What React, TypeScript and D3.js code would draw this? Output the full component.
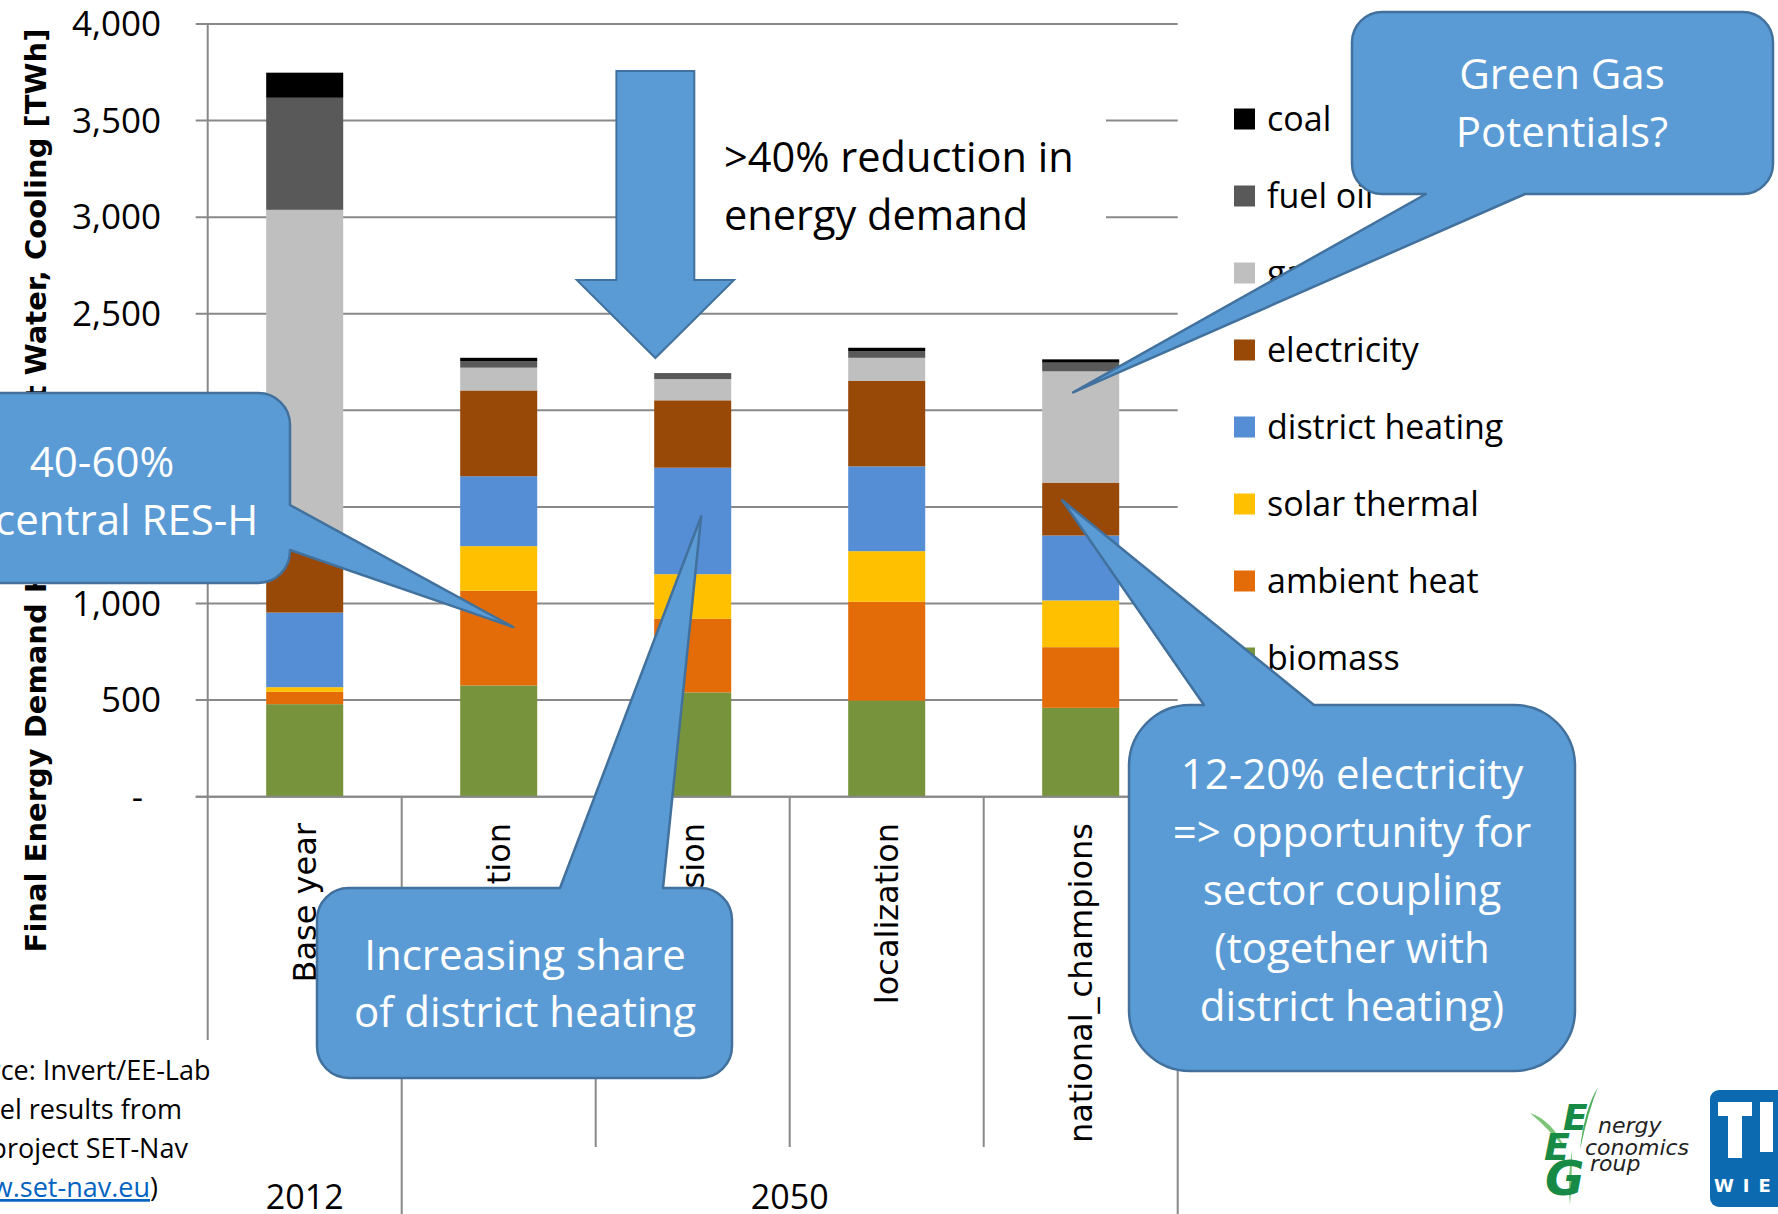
import * as React from 'react';
import {scaleLinear, scaleBand, stack as d3Stack, select as d3Select, path as d3Path, format as d3Format} from 'd3';

// Final energy demand for heating, hot water and cooling [TWh]
const categories = ['Base year', 'diversification', 'directed_vision', 'localization', 'national_champions'];
const groupLabels = ['2012', '2050'];
const groupSpans = [1, 4];
const yTicks = [0, 500, 1000, 1500, 2000, 2500, 3000, 3500, 4000];

// stack order, bottom to top
const carriers = ['biomass', 'ambient heat', 'solar thermal', 'district heating', 'electricity', 'gas', 'fuel oil', 'coal'];
const carrierColors = ['#77933C', '#E36C09', '#FFC000', '#558ED5', '#984807', '#BFBFBF', '#595959', '#000000'];

const biomass = [479, 576, 540, 497, 460];
const ambientHeat = [64, 490, 381, 512, 314];
const solarThermal = [24, 231, 231, 262, 242];
const districtHeating = [386, 362, 551, 439, 336];
const electricity = [347, 444, 349, 442, 274];
const gas = [1738, 118, 110, 120, 576];
const fuelOil = [580, 34, 31, 35, 45];
const coal = [130, 17, 0, 17, 17];

const seriesValues = [biomass, ambientHeat, solarThermal, districtHeating, electricity, gas, fuelOil, coal];

const yTitle = 'Final Energy Demand Heating, Hot Water, Cooling [TWh]';
const reductionText = ['>40% reduction in', 'energy demand'];
const sourceLines = ['Source: Invert/EE-Lab', 'model results from', 'the project SET-Nav'];

// callouts: box in px, tail tip anchored to a bar (category, offset from bar left, value)
interface Callout {
  box: [number, number, number, number];
  edge: 'top' | 'right' | 'bottom';
  a: number;
  b: number;
  cat: string;
  dx: number;
  value: number;
  lines: string[];
  baselines: number[];
  cx: number;
}

const callouts: Callout[] = [
  {box: [1352, 12, 1773, 194], edge: 'bottom', a: 1426, b: 1525, cat: 'national_champions', dx: 31, value: 2093,
   lines: ['Green Gas', 'Potentials?'], baselines: [89, 147], cx: 1562},
  {box: [-85, 393, 290, 583], edge: 'right', a: 505, b: 550, cat: 'diversification', dx: 53, value: 878,
   lines: ['40-60%', 'decentral RES-H'], baselines: [477, 535], cx: 102},
  {box: [317, 888, 732, 1078], edge: 'top', a: 560, b: 663, cat: 'directed_vision', dx: 47, value: 1452,
   lines: ['Increasing share', 'of district heating'], baselines: [970, 1027], cx: 525},
  {box: [1129, 705, 1575, 1071], edge: 'top', a: 1204, b: 1314, cat: 'national_champions', dx: 20, value: 1535,
   lines: ['12-20% electricity', '=> opportunity for', 'sector coupling', '(together with', 'district heating)'],
   baselines: [789, 847, 905, 963, 1021], cx: 1352},
];

const gridColor = '#898989';
const calloutFill = '#5B9BD5';
const calloutStroke = '#41719C';
const bodyFont = '"Open Sans", "Noto Sans", sans-serif';
const axisFont = '"DejaVu Sans", Verdana, sans-serif';

function calloutPath(c: Callout, tx: number, ty: number): string {
  const [x0, y0, x1, y1] = c.box;
  const r = Math.min(x1 - x0, y1 - y0) / 6;
  const p = d3Path();
  p.moveTo(x0 + r, y0);
  if (c.edge === 'top') { p.lineTo(c.a, y0); p.lineTo(tx, ty); p.lineTo(c.b, y0); }
  p.lineTo(x1 - r, y0);
  p.arcTo(x1, y0, x1, y0 + r, r);
  if (c.edge === 'right') { p.lineTo(x1, c.a); p.lineTo(tx, ty); p.lineTo(x1, c.b); }
  p.lineTo(x1, y1 - r);
  p.arcTo(x1, y1, x1 - r, y1, r);
  if (c.edge === 'bottom') { p.lineTo(c.b, y1); p.lineTo(tx, ty); p.lineTo(c.a, y1); }
  p.lineTo(x0 + r, y1);
  p.arcTo(x0, y1, x0, y1 - r, r);
  p.lineTo(x0, y0 + r);
  p.arcTo(x0, y0, x0 + r, y0, r);
  p.closePath();
  return p.toString();
}

export default class App extends React.Component<{}, {}> {
  private _svg = React.createRef<SVGSVGElement>();

  public componentDidMount() {
    this._draw();
  }

  private _draw() {
    const svg = d3Select(this._svg.current as SVGSVGElement);
    svg.selectAll('*').remove();

    const plot = {left: 207.7, right: 1177.7, top: 24, bottom: 796.7};
    const tickSize = 12;

    const x = scaleBand<string>()
      .domain(categories)
      .range([plot.left, plot.right])
      .paddingInner(0.603)
      .paddingOuter(0.3015);
    const y = scaleLinear().domain([0, 4000]).range([plot.bottom, plot.top]);
    const fmt = d3Format(',');

    // gridlines
    svg.append('g').selectAll('line')
      .data(yTicks)
      .enter().append('line')
      .attr('x1', plot.left - tickSize).attr('x2', plot.right)
      .attr('y1', (d) => y(d)).attr('y2', (d) => y(d))
      .attr('stroke', gridColor).attr('stroke-width', 2);

    // y tick labels
    svg.append('g').selectAll('text')
      .data(yTicks)
      .enter().append('text')
      .attr('x', (d) => d === 0 ? 143 : 161)
      .attr('y', (d) => y(d))
      .attr('dy', '0.35em')
      .attr('text-anchor', 'end')
      .style('font-family', bodyFont)
      .style('font-size', '35px')
      .text((d) => d === 0 ? '-' : fmt(d));

    // stacked bars
    const rows = categories.map((c, i) => {
      const row: any = {category: c};
      carriers.forEach((k, j) => { row[k] = seriesValues[j][i]; });
      return row;
    });
    const series = d3Stack<any>().keys(carriers)(rows);
    svg.append('g').selectAll('g')
      .data(series)
      .enter().append('g')
      .attr('fill', (_, i) => carrierColors[i])
      .selectAll('rect')
      .data((s) => s)
      .enter().append('rect')
      .attr('x', (d) => x(d.data.category) as number)
      .attr('width', x.bandwidth())
      .attr('y', (d) => y(d[1]))
      .attr('height', (d) => y(d[0]) - y(d[1]));

    // axis lines and category dividers
    const axes = svg.append('g').attr('stroke', gridColor).attr('stroke-width', 2);
    axes.append('line')
      .attr('x1', plot.left - tickSize).attr('x2', plot.right)
      .attr('y1', plot.bottom).attr('y2', plot.bottom);
    const groupStarts: number[] = [];
    groupSpans.reduce((acc, s) => { groupStarts.push(acc); return acc + s; }, 0);
    const boundaries = categories.map((_, i) => i).concat([categories.length]);
    axes.selectAll('line.divider')
      .data(boundaries)
      .enter().append('line')
      .attr('class', 'divider')
      .attr('x1', (i) => plot.left + i * x.step())
      .attr('x2', (i) => plot.left + i * x.step())
      .attr('y1', (i) => i === 0 ? plot.top : plot.bottom)
      .attr('y2', (i) => {
        if (i === 0) { return 1040; }
        if (i === categories.length || groupStarts.indexOf(i) >= 0) { return 1214; }
        return 1147;
      });

    // category labels
    svg.append('g').selectAll('text')
      .data(categories)
      .enter().append('text')
      .attr('transform', (d) => `translate(${(x(d) as number) + x.bandwidth() / 2}, 823) rotate(-90)`)
      .attr('dy', '0.35em')
      .attr('text-anchor', 'end')
      .style('font-family', axisFont)
      .style('font-size', '32px')
      .text((d) => d);

    // group labels
    svg.append('g').selectAll('text')
      .data(groupLabels)
      .enter().append('text')
      .attr('x', (_, i) => plot.left + (groupStarts[i] + groupSpans[i] / 2) * x.step())
      .attr('y', 1209)
      .attr('text-anchor', 'middle')
      .style('font-family', bodyFont)
      .style('font-size', '34px')
      .text((d) => d);

    // y axis title
    svg.append('text')
      .attr('transform', 'translate(35.5, 490.5) rotate(-90)')
      .attr('dy', '0.35em')
      .attr('text-anchor', 'middle')
      .style('font-family', axisFont)
      .style('font-weight', 'bold')
      .style('font-size', '29px')
      .text(yTitle);

    // legend
    const legendOrder = carriers.map((_, i) => carriers.length - 1 - i);
    const legend = svg.append('g').selectAll('g')
      .data(legendOrder)
      .enter().append('g')
      .attr('transform', (_, i) => `translate(1234, ${119 + i * 77})`);
    legend.append('rect')
      .attr('x', 0).attr('y', -10.5)
      .attr('width', 21).attr('height', 21)
      .attr('fill', (k) => carrierColors[k]);
    legend.append('text')
      .attr('x', 33)
      .attr('dy', '0.35em')
      .style('font-family', bodyFont)
      .style('font-size', '34px')
      .text((k) => carriers[k]);

    // reduction note with white text box
    svg.append('rect')
      .attr('x', 690).attr('y', 100).attr('width', 416).attr('height', 162)
      .attr('fill', '#ffffff');
    svg.append('g').selectAll('text')
      .data(reductionText)
      .enter().append('text')
      .attr('x', 724)
      .attr('y', (_, i) => 172 + i * 58)
      .style('font-family', bodyFont)
      .style('font-size', '41.5px')
      .text((d) => d);

    // down arrow
    const arrow = [[616.4, 71], [694.3, 71], [694.3, 280], [734, 280], [655.4, 358], [576.8, 280], [616.4, 280]];
    svg.append('polygon')
      .attr('points', arrow.map((p) => p.join(',')).join(' '))
      .attr('fill', calloutFill)
      .attr('stroke', calloutStroke)
      .attr('stroke-width', 2);

    // callouts
    callouts.forEach((c) => {
      const tx = (x(c.cat) as number) + c.dx;
      const ty = y(c.value);
      svg.append('path')
        .attr('d', calloutPath(c, tx, ty))
        .attr('fill', calloutFill)
        .attr('stroke', calloutStroke)
        .attr('stroke-width', 2.5)
        .attr('stroke-linejoin', 'round');
      svg.append('g').selectAll('text')
        .data(c.lines)
        .enter().append('text')
        .attr('x', c.cx)
        .attr('y', (_, i) => c.baselines[i])
        .attr('text-anchor', 'middle')
        .attr('fill', '#ffffff')
        .style('font-family', bodyFont)
        .style('font-size', '42px')
        .text((d) => d);
    });

    // source note
    const source = svg.append('g')
      .style('font-family', bodyFont)
      .style('font-size', '27px');
    source.selectAll('text')
      .data(sourceLines)
      .enter().append('text')
      .attr('x', -58)
      .attr('y', (_, i) => 1080 + i * 39)
      .text((d) => d);
    const link = source.append('text').attr('x', -58).attr('y', 1197);
    link.append('tspan').text('(');
    link.append('tspan').attr('fill', '#0563C1').attr('text-decoration', 'underline').text('www.set-nav.eu');
    link.append('tspan').text(')');

    // EEG logo
    const eeg = svg.append('g');
    eeg.append('path')
      .attr('d', 'M1530,1113 Q1552,1120 1566,1150 Q1548,1128 1530,1113 Z')
      .attr('fill', '#7CC576');
    eeg.append('path')
      .attr('d', 'M1598,1087 Q1584,1110 1580,1150 Q1588,1112 1598,1087 Z')
      .attr('fill', '#4FAF5A');
    eeg.append('path')
      .attr('d', 'M1570,1205 Q1567,1180 1572,1150 Q1572,1182 1570,1205 Z')
      .attr('fill', '#7CC576');
    const eegLetters = [
      {t: 'E', x: 1563, y: 1130, s: 36},
      {t: 'E', x: 1544, y: 1160, s: 38},
      {t: 'G', x: 1545, y: 1195, s: 48},
    ];
    eeg.selectAll('text.big')
      .data(eegLetters)
      .enter().append('text')
      .attr('class', 'big')
      .attr('x', (d) => d.x).attr('y', (d) => d.y)
      .attr('fill', '#178A45')
      .style('font-family', axisFont)
      .style('font-weight', 'bold')
      .style('font-style', 'italic')
      .style('font-size', (d) => `${d.s}px`)
      .text((d) => d.t);
    const eegWords = [
      {t: 'nergy', x: 1598, y: 1133},
      {t: 'conomics', x: 1585, y: 1155},
      {t: 'roup', x: 1590, y: 1171},
    ];
    eeg.selectAll('text.word')
      .data(eegWords)
      .enter().append('text')
      .attr('class', 'word')
      .attr('x', (d) => d.x).attr('y', (d) => d.y)
      .attr('fill', '#222222')
      .style('font-family', axisFont)
      .style('font-style', 'italic')
      .style('font-size', '22px')
      .text((d) => d.t);

    // TU Wien logo
    const tu = svg.append('g');
    tu.append('rect')
      .attr('x', 1710).attr('y', 1090).attr('width', 100).attr('height', 117).attr('rx', 9)
      .attr('fill', '#0B6AB0');
    tu.append('rect').attr('x', 1718).attr('y', 1102).attr('width', 34).attr('height', 14).attr('fill', '#ffffff');
    tu.append('rect').attr('x', 1728).attr('y', 1102).attr('width', 14).attr('height', 56).attr('fill', '#ffffff');
    tu.append('rect').attr('x', 1760).attr('y', 1102).attr('width', 13).attr('height', 50).attr('fill', '#ffffff');
    tu.append('text')
      .attr('x', 1714).attr('y', 1192)
      .attr('fill', '#ffffff')
      .style('font-family', axisFont)
      .style('font-weight', 'bold')
      .style('font-size', '18px')
      .style('letter-spacing', '9px')
      .text('WIEN');
  }

  public render() {
    return <svg ref={this._svg} width={1778} height={1214}
      style={{position: 'absolute', left: 0, top: 0, background: '#ffffff'}} />;
  }
}
